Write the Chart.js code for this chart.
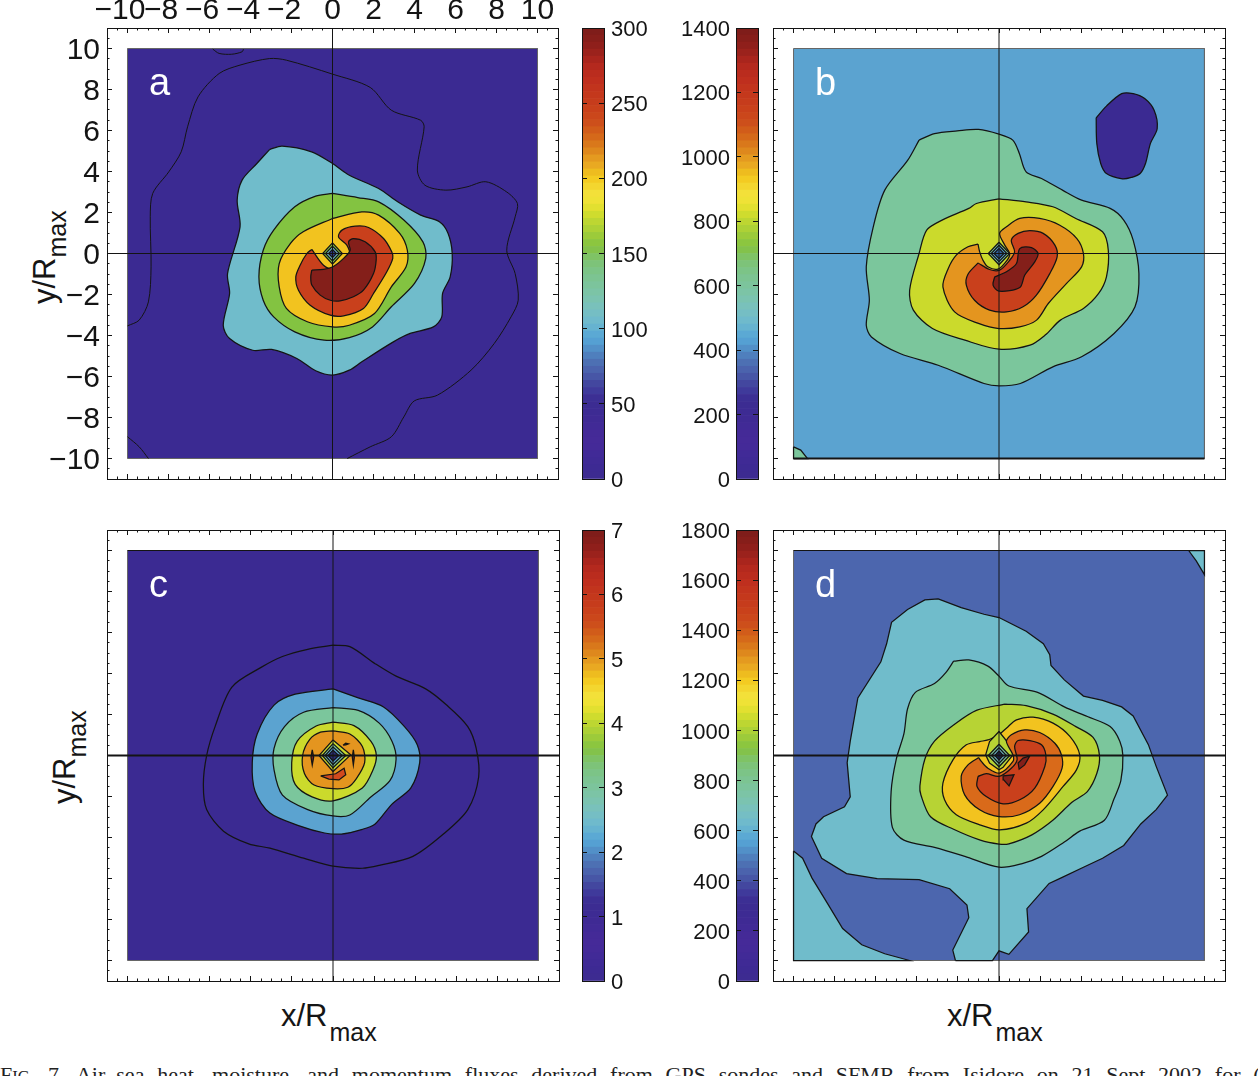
<!DOCTYPE html>
<html>
<head>
<meta charset="utf-8">
<script src="https://cdn.jsdelivr.net/npm/chart.js@4"></script>
<style>
html, body { margin: 0; background: #fff; width: 1258px; height: 1076px; overflow: hidden; }
canvas { position: absolute; }
.title { position: absolute; font-family: "Liberation Sans", sans-serif; font-size: 31px; line-height: 31px; color: #151515; white-space: nowrap; }
.title span { font-size: 25px; position: relative; top: 15px; margin-left: 2px; }
.rot { transform: rotate(-90deg); transform-origin: left top; }
.rot span { top: 11px; margin-left: 0; }
#caption { position: absolute; left: 0; top: 1064px; width: 1258px; font-family: "Liberation Serif", serif; font-size: 22px; line-height: 22px; color: #222; white-space: nowrap; overflow: hidden; word-spacing: 7.26px; }
#caption small { font-size: 16.5px; }
</style>
</head>
<body>
<div class="title rot" style="left:29px;top:304px">y/R<span>max</span></div>
<div class="title rot" style="left:49px;top:804px">y/R<span>max</span></div>
<div class="title" style="left:281px;top:1000px">x/R<span>max</span></div>
<div class="title" style="left:947px;top:1000px">x/R<span>max</span></div>
<div id="caption">F<small>IG</small>. 7. Air–sea heat, moisture, and momentum fluxes derived from GPS sondes and SFMR from Isidore on 21 Sept 2002 for (a</div>
<script>
const axisValues = [-10, -8, -6, -4, -2, 0, 2, 4, 6, 8, 10];
const axisLabels = ["−10", "−8", "−6", "−4", "−2", "0", "2", "4", "6", "8", "10"];
// the minus sign pushes the top labels to the left of their ticks
const topLabels = ["−10\u2002", "−8\u2002", "−6\u2002", "−4\u2002", "−2\u2002", "0", "2", "4", "6", "8", "10"];
const minorValues = [-11, -10.5, -10, -9.5, -9, -8.5, -8, -7.5, -7, -6.5, -6, -5.5, -5, -4.5, -4, -3.5, -3, -2.5, -2, -1.5, -1, -0.5, 0, 0.5, 1, 1.5, 2, 2.5, 3, 3.5, 4, 4.5, 5, 5.5, 6, 6.5, 7, 7.5, 8, 8.5, 9, 9.5, 10, 10.5, 11];

const barTicksA = [0, 50, 100, 150, 200, 250, 300];
const barTicksB = [0, 200, 400, 600, 800, 1000, 1200, 1400];
const barTicksC = [0, 1, 2, 3, 4, 5, 6, 7];
const barTicksD = [0, 200, 400, 600, 800, 1000, 1200, 1400, 1600, 1800];

// colour bar, bottom to top
const barColors = [
    "#3d2b91", "#3d2a93", "#3f2a95", "#412a97", "#442a98", "#452a98", "#442a97", "#412a96", "#3f2a94", "#3d2b93", "#3c2c92",
    "#3c2f94", "#3f3a9b", "#43479f", "#4756a6", "#4b63ad", "#4d70b3", "#4f7fbd", "#5290c8", "#55a0d3", "#5ba9d4",
    "#66b3d0", "#6fbacc", "#75bec4", "#79c1bb", "#7bc3b0", "#7cc4a6", "#7cc49c", "#7cc492", "#7cc487", "#7dc379",
    "#7fc365", "#83c24b", "#8cc63f", "#9ccb3a", "#add136", "#bdd632", "#cfdc2e", "#e2e030", "#efe236", "#f3e039",
    "#f3d62f", "#f3cb22", "#eebc1f", "#e9a922", "#e49a20", "#de881d", "#d9781b", "#d5691a", "#d15c1a", "#cd4f1b",
    "#cb471b", "#c9411b", "#c63c1c", "#c4381c", "#c2341d", "#bf2f1e", "#ba2c1e", "#b4291e", "#a9251d", "#9b221c",
    "#8f1f1b", "#861e1a", "#7f1d1a",
];

const boxOutline = [[-10, -10], [-10, 10], [10, 10], [10, -10]];
const crossH = [[-11, 0], [11, 0]];
const crossV = [[0, -11], [0, 11]];
const edgeTop = [[-10, 10], [10, 10]];
const edgeBottom = [[-10, -10], [10, -10]];

// panel a
const lineA1 = [[-10, -3.53], [-9.43, -3.25], [-8.98, -2.36], [-8.85, -0.65], [-8.89, 1.79], [-8.77, 2.93], [-7.99, 3.98], [-7.38, 4.96], [-7.07, 6.18], [-6.56, 7.64], [-5.53, 8.78], [-4.51, 9.19], [-3.07, 9.51], [-2.25, 9.43], [0, 8.75], [1.84, 8.1], [2.87, 6.99], [4.3, 6.5], [4.47, 6.18], [4.14, 4.07], [4.51, 3.33], [5.53, 3.09], [6.56, 3.25], [7.48, 3.5], [8.5, 3], [9.02, 2.44], [8.91, 1.79], [8.5, 0.16], [8.91, -0.98], [9.06, -2.28], [8.71, -3.09], [7.89, -4.39], [6.76, -5.69], [5.12, -6.91], [3.99, -7.19], [3.48, -7.97], [2.87, -8.94], [1.84, -9.43], [0.72, -10]];
const lineA2 = [[-5.84, 9.97], [-5.53, 9.76], [-4.92, 9.72], [-4.41, 9.84], [-4.34, 9.97]];
const lineA3 = [[-10, -8.94], [-9.43, -9.43], [-8.98, -10]];
const contourA2 = [[-3.07, 5.07], [-2.46, 5.24], [-1.02, 4.96], [0, 4.39], [0.82, 3.82], [2.25, 3.17], [3.18, 2.52], [4.3, 1.87], [5.23, 1.54], [5.64, 0.98], [5.84, 0], [5.74, -1.14], [5.37, -1.95], [5.33, -3.09], [4.92, -3.58], [3.79, -3.9], [2.97, -4.31], [1.43, -5.28], [0.82, -5.69], [0, -5.93], [-0.82, -5.72], [-1.74, -5.12], [-2.97, -4.68], [-3.89, -4.72], [-5.02, -4.15], [-5.33, -3.5], [-5.02, -1.95], [-5.12, -0.98], [-4.51, 1.3], [-4.65, 2.6], [-4.41, 3.58], [-3.69, 4.39]];
const contourA3 = [[0, 2.93], [1.23, 2.73], [2.25, 2.52], [3.48, 1.63], [4.41, 0.57], [4.55, -0.24], [4, -1.46], [2.87, -2.6], [1.95, -3.58], [0.82, -4.1], [-0.41, -4.23], [-1.84, -3.82], [-2.87, -3.09], [-3.38, -2.28], [-3.59, -1.14], [-3.38, 0.16], [-2.87, 1.14], [-1.84, 2.28], [-0.82, 2.8]];
const contourA4 = [[0, 1.71], [1.43, 2.03], [2.25, 1.87], [3.28, 0.98], [3.65, 0.16], [3.59, -0.65], [2.87, -1.63], [2.05, -2.93], [0.82, -3.5], [0, -3.58], [-1.23, -3.33], [-2.25, -2.68], [-2.6, -1.63], [-2.6, -0.49], [-2.05, 0.49], [-1.43, 1.06]];
const contourA5 = [[-1.01, 0.2], [-0.44, -0.57], [0.02, -0.75], [0.46, -0.57], [0.83, -0.08], [0.7, 0.41], [0.29, 0.81], [0.46, 1.14], [1.11, 1.33], [1.76, 1.27], [2.49, 0.73], [2.89, 0.08], [2.94, -0.24], [2.65, -0.89], [2, -1.95], [1.51, -2.68], [0.54, -3.04], [-0.11, -3.01], [-1.09, -2.52], [-1.66, -1.79], [-1.79, -1.14], [-1.58, -0.57], [-1.25, 0]];
const contourA6 = [[-1.01, -0.81], [-0.44, -0.78], [0.02, -0.65], [0.54, -0.24], [0.86, 0.16], [0.78, 0.57], [1.02, 0.73], [1.59, 0.57], [2.08, 0.08], [2.13, -0.33], [2, -0.98], [1.51, -1.79], [1.02, -2.11], [0.37, -2.31], [-0.11, -2.28], [-0.6, -2.03], [-1.01, -1.54], [-1.06, -1.14]];
const diamondA1 = [[0, 0.52], [0.48, 0], [0, -0.52], [-0.48, 0]];
const diamondA2 = [[0, 0.36], [0.34, 0], [0, -0.36], [-0.34, 0]];
const diamondA3 = [[0, 0.2], [0.19, 0], [0, -0.2], [-0.19, 0]];

// panel b
const contourB1 = [[4.73, 6.62], [5.23, 7.19], [5.97, 7.8], [6.53, 7.8], [7.09, 7.56], [7.55, 6.99], [7.7, 6.1], [7.37, 5.37], [7.13, 4.39], [6.87, 3.9], [6.44, 3.71], [6.01, 3.64], [5.23, 3.9], [4.95, 4.39], [4.76, 5.37]];
const contourB2 = [[-10, -9.43], [-9.65, -9.59], [-9.32, -10], [-10, -10]];
const contourB3 = [[-3.89, 5.53], [-3.14, 5.85], [-2.03, 5.98], [-1, 6.05], [0, 5.82], [0.67, 5.53], [0.99, 4.88], [1.32, 3.98], [2.07, 3.66], [3.09, 3.09], [4.02, 2.6], [5.41, 2.2], [6.07, 1.63], [6.53, 0.65], [6.81, -0.98], [6.62, -2.6], [5.6, -3.9], [4.02, -5.04], [2.62, -5.53], [1.04, -6.34], [0, -6.46], [-0.73, -6.34], [-2.96, -5.45], [-4.82, -4.88], [-6.21, -4.07], [-6.46, -3.5], [-6.31, -2.28], [-6.46, -0.65], [-6.12, 1.3], [-5.56, 3.09], [-4.44, 4.55]];
const contourB4 = [[0, 2.67], [1.32, 2.52], [2.62, 2.28], [3.74, 1.71], [5.04, 1.06], [5.32, 0.16], [5.23, -1.14], [4.85, -1.95], [4.11, -2.68], [2.99, -3.25], [2.25, -3.98], [1.51, -4.47], [0, -4.67], [-1.66, -4.23], [-3.24, -3.66], [-4.17, -2.76], [-4.35, -1.79], [-3.89, 0], [-3.52, 1.14], [-2.77, 1.63], [-1.47, 2.2], [-1.1, 2.44]];
const contourB5 = [[-1.02, 0.46], [-1.51, 0.33], [-2.08, -0.08], [-2.47, -0.73], [-2.73, -1.63], [-2.16, -2.85], [-1, -3.41], [0, -3.66], [1.01, -3.58], [1.83, -3.25], [2.4, -2.44], [3.29, -1.46], [4.02, -0.65], [4.11, 0], [3.79, 0.73], [2.96, 1.38], [1.98, 1.71], [1.01, 1.71], [0.36, 1.3], [0.03, 0.98], [0.28, 0.41], [0.52, 0], [0.39, -0.33], [-0.05, -0.76], [-0.54, -0.65], [-0.78, -0.33], [-0.94, 0.08]];
const contourB6 = [[-1.02, -0.46], [-1.51, -1.01], [-1.59, -1.54], [-1.19, -2.28], [-0.46, -2.76], [0.36, -2.85], [1.17, -2.6], [1.82, -2.03], [2.47, -0.98], [2.83, -0.16], [2.72, 0.41], [2.15, 0.98], [1.5, 1.11], [0.93, 0.98], [0.6, 0.65], [0.76, 0.08], [0.52, -0.33], [0.03, -0.81], [-0.46, -0.78]];
const contourB7 = [[-0.21, -1.14], [-0.29, -1.54], [0, -1.84], [1.01, -1.66], [1.25, -1.06], [1.74, -0.41], [1.9, 0], [1.58, 0.29], [1.01, 0.24], [0.85, -0.49], [0.36, -0.89]];
const diamondB1 = [[0, 0.55], [0.52, 0], [0, -0.55], [-0.52, 0]];
const diamondB2 = [[0, 0.4], [0.38, 0], [0, -0.4], [-0.38, 0]];
const diamondB3 = [[0, 0.25], [0.24, 0], [0, -0.25], [-0.24, 0]];

// panel c
const contourC1 = [[0, 5.38], [0.82, 5.31], [2.05, 4.48], [3.07, 3.87], [4.51, 3.25], [5.53, 2.46], [6.56, 1.41], [6.97, 0.35], [7.09, -1.05], [6.56, -2.64], [5.33, -3.87], [3.89, -4.92], [2.25, -5.36], [1.43, -5.5], [0, -5.4], [-1.43, -5.01], [-3.07, -4.52], [-4.1, -4.31], [-5.33, -3.69], [-6.15, -2.64], [-6.31, -1.41], [-6.15, 0], [-5.74, 1.41], [-4.92, 3.34], [-3.48, 4.31], [-2.46, 4.83], [-1.23, 5.18]];
const contourC2 = [[0, 3.25], [1.23, 2.81], [2.46, 2.37], [3.48, 1.41], [4.1, 0.53], [4.22, -0.35], [3.79, -1.58], [2.87, -2.37], [2.05, -3.34], [1.43, -3.6], [0.41, -3.83], [-0.41, -3.78], [-1.64, -3.43], [-3.07, -2.81], [-3.79, -1.76], [-3.93, -0.35], [-3.69, 1.05], [-2.87, 2.46], [-1.84, 2.99]];
const contourC3 = [[0, 2.34], [1.23, 2.2], [2.25, 1.58], [2.87, 0.7], [3.07, -0.18], [2.77, -1.23], [1.84, -2.02], [0.82, -2.9], [0, -2.95], [-1.23, -2.64], [-2.46, -1.93], [-2.87, -0.7], [-2.87, 0.35], [-2.36, 1.41], [-1.43, 2.11]];
const contourC4 = [[0, 1.63], [1.02, 1.46], [1.84, 0.7], [2.11, 0], [1.95, -0.7], [1.43, -1.58], [0, -2.21], [-1.02, -2.02], [-1.84, -1.41], [-2.01, -0.35], [-1.74, 0.7], [-0.82, 1.44]];
const contourC5 = [[0, 1.2], [0.82, 1.05], [1.43, 0.44], [1.54, -0.35], [1.13, -1.14], [0.72, -1.55], [0, -1.62], [-0.92, -1.44], [-1.39, -0.88], [-1.48, 0], [-1.13, 0.79], [-0.61, 1.14]];
const contourC6 = [[-0.6, -0.99], [-0.2, -1.15], [0.29, -1.19], [0.62, -0.94], [0.54, -0.62], [0.13, -0.89]];
const contourC7 = [[-1.01, 0.28], [-0.94, -0.08], [-1.01, -0.46], [-1.07, -0.08]];
const contourC8 = [[0.99, 0.28], [1.04, -0.08], [0.99, -0.46], [0.94, -0.08]];
const contourC9 = [[0.49, 0.5], [0.62, 0.6], [0.75, 0.57], [0.62, 0.52]];
const diamondC1 = [[0, 0.76], [0.86, 0.03], [0, -0.78], [-0.68, 0]];
const diamondC2 = [[0, 0.58], [0.62, 0], [0, -0.6], [-0.52, 0]];
const diamondC3 = [[0, 0.42], [0.45, 0], [0, -0.44], [-0.38, 0]];
const diamondC4 = [[0, 0.26], [0.28, 0], [0, -0.27], [-0.24, 0]];

// panel d
const contourD1 = [[-10, -4.66], [-9.56, -5.01], [-9.1, -5.98], [-8.35, -7.21], [-7.61, -8.44], [-6.68, -9.23], [-5.56, -9.67], [-4.35, -10], [-10, -10]];
const contourD2 = [[9.23, 10], [9.6, 9.49], [10, 8.82], [10, 10]];
const contourD3 = [[-2.12, -10], [-2.25, -9.49], [-1.47, -7.91], [-1.56, -7.29], [-2.4, -6.5], [-3.89, -6.06], [-5.93, -6.01], [-7.42, -5.76], [-8.63, -5.01], [-9.13, -3.95], [-8.91, -3.34], [-8.54, -2.99], [-7.52, -2.5], [-7.24, -2.02], [-7.39, -0.35], [-7.24, 0.7], [-6.87, 2.81], [-5.75, 4.57], [-5.47, 5.45], [-5.23, 6.5], [-4.45, 7.12], [-3.61, 7.59], [-2.96, 7.64], [-1.84, 7.21], [-0.73, 6.89], [0, 6.73], [1.32, 6.06], [2.16, 5.45], [2.47, 4.92], [2.53, 4.39], [3.18, 3.69], [4.11, 2.9], [5.04, 2.69], [5.97, 2.37], [6.53, 1.93], [7.27, 0.53], [7.65, -0.53], [8.2, -1.93], [7.65, -2.64], [6.9, -3.34], [6.07, -4.39], [5.04, -5.01], [4.11, -5.45], [3, -5.98], [2.44, -6.24], [1.36, -7.47], [1.44, -8.61], [0.48, -9.7], [0, -9.53], [-0.32, -10]];
const contourD4 = [[-2.21, 4.6], [-1.47, 4.66], [-0.54, 4.36], [0, 3.87], [0.48, 3.39], [1.88, 3.08], [3.18, 2.37], [4.3, 1.9], [5.41, 1.41], [5.88, 0.7], [6.03, 0], [5.93, -1.23], [5.6, -2.11], [5.13, -3.16], [3.93, -3.69], [3.18, -4.22], [2.07, -4.92], [1.13, -5.27], [0, -5.45], [-1.66, -4.92], [-3.14, -4.48], [-4.63, -4.13], [-5.19, -3.51], [-5.25, -1.76], [-5, -0.18], [-4.63, 1.05], [-4.45, 2.28], [-4.07, 3.08], [-3.14, 3.51], [-2.59, 4.04]];
const contourD5 = [[0.3, 2.51], [1.32, 2.43], [2.62, 2.02], [3.74, 1.41], [4.58, 0.88], [4.89, 0], [4.76, -0.88], [4.3, -1.76], [3.55, -2.28], [2.62, -3.16], [1.6, -3.87], [0.48, -4.31], [0, -4.32], [-0.91, -4.13], [-2.21, -3.6], [-3.33, -2.99], [-3.8, -1.93], [-3.85, -1.49], [-3.61, -0.18], [-3.14, 0.7], [-2.21, 1.49], [-1.1, 2.2]];
const contourD6 = [[0, 1.01], [0.36, 1.33], [0.85, 1.74], [1.66, 1.87], [2.63, 1.58], [3.45, 0.93], [3.93, 0.03], [3.77, -0.7], [3.12, -1.51], [2.15, -2.65], [1.33, -3.3], [0.03, -3.63], [-0.94, -3.38], [-2.08, -2.89], [-2.65, -2.16], [-2.73, -1.35], [-2.24, -0.21], [-1.59, 0.52], [-0.94, 0.68], [-0.54, 0.76]];
const contourD7 = [[0, 1.17], [0.52, 0.52], [0.68, 0.03], [0.2, -0.57], [0, -0.7], [-0.46, -0.37], [-0.65, 0.03], [-0.46, 0.68]];
const contourD8 = [[-0.99, -0.1], [-1.51, -0.46], [-1.84, -1.02], [-1.67, -1.92], [-0.94, -2.65], [0, -2.98], [1, -2.89], [1.98, -2.33], [2.63, -1.51], [3.07, -0.62], [3.04, 0.03], [2.72, 0.6], [1.98, 1.12], [1.25, 1.25], [0.6, 1.01], [0.36, 0.68], [0.68, 0.03], [0.68, -0.29], [0.03, -0.86], [-0.54, -0.62], [-0.86, -0.29]];
const contourD9 = [[-1.02, -1.02], [-1.07, -1.51], [-0.62, -2], [0.2, -2.36], [1.01, -2.16], [1.74, -1.59], [2.23, -0.54], [2.28, 0.03], [2.07, 0.52], [1.5, 0.73], [0.93, 0.73], [0.76, 0.44], [0.88, -0.21], [0.6, -0.62], [0, -1.02], [-0.62, -0.89]];
const contourD10 = [[1.5, -0.02], [1.25, -0.46], [0.98, -0.67], [0.93, -0.37], [1.17, -0.13]];
const contourD11 = [[0.2, -0.99], [0.73, -0.94], [0.49, -1.48], [0.23, -1.19]];
const diamondD1 = [[0, 0.55], [0.52, 0], [0, -0.55], [-0.52, 0]];
const diamondD2 = [[0, 0.38], [0.36, 0], [0, -0.38], [-0.36, 0]];
const diamondD3 = [[0, 0.22], [0.2, 0], [0, -0.22], [-0.2, 0]];

const INDIGO = "#3b2a92", SLATE = "#4c66ae", BLUE = "#5ba3d0", TEAL = "#70bccb", MINT = "#7bc69c";
const GREEN = "#83c341", LIME = "#cbda2c", LIME2 = "#b7d334", AMBER = "#f2c31f", ORANGE = "#e4951f";
const RUST = "#d96a1a", RED = "#c9401c", MAROON = "#841f1a";

const layersA = [
    [boxOutline, INDIGO], [contourA2, TEAL], [contourA3, GREEN], [contourA4, AMBER], [contourA5, RED], [contourA6, MAROON],
    [diamondA1, GREEN], [diamondA2, TEAL], [diamondA3, "#2b3a8c"],
];
const layersB = [
    [boxOutline, BLUE], [contourB1, INDIGO], [contourB2, MINT], [contourB3, MINT], [contourB4, LIME], [contourB5, ORANGE], [contourB6, RED], [contourB7, MAROON],
    [diamondB1, MINT], [diamondB2, BLUE], [diamondB3, "#2f5f9a"],
];
const layersC = [
    [boxOutline, INDIGO], [contourC1, INDIGO], [contourC2, BLUE], [contourC3, MINT], [contourC4, LIME], [contourC5, ORANGE], [contourC6, "#d14a1e"],
    [contourC7, MAROON], [contourC8, MAROON], [contourC9, MAROON],
    [diamondC1, LIME], [diamondC2, MINT], [diamondC3, BLUE], [diamondC4, "#2b2f7c"],
];
const layersD = [
    [boxOutline, SLATE], [contourD1, TEAL], [contourD2, TEAL], [contourD3, TEAL], [contourD4, MINT], [contourD5, LIME2], [contourD6, AMBER], [contourD7, LIME2],
    [contourD8, RUST], [contourD9, RED], [contourD10, MAROON], [contourD11, MAROON],
    [diamondD1, MINT], [diamondD2, TEAL], [diamondD3, "#1e2a66"],
];
const openLinesA = [lineA1, lineA2, lineA3];
// these touch the box edge, a curve through them would spill out of it
const straightLayers = [boxOutline, contourB2, contourD1, contourD2, contourD3];

const INK = "#141414";

function addCanvas(left, top, width, height) {
    const canvas = document.createElement("canvas");
    canvas.width = width;
    canvas.height = height;
    canvas.style.left = left + "px";
    canvas.style.top = top + "px";
    document.body.appendChild(canvas);
    return canvas;
}

function edgeAxis(position, min, max, values, tickLength, size, labels, fontSize, padding, z, labelOffset) {
    const horizontal = position == "top" || position == "bottom";
    return {
        type: "linear",
        position: position,
        weight: size > 0 ? 1 : 0,
        min: min,
        max: max,
        afterBuildTicks: (scale) => {
            scale.ticks = values.map((v) => ({ value: v }));
        },
        afterFit: (scale) => {
            if (horizontal) scale.height = size;
            else scale.width = size;
            scale.paddingLeft = scale.paddingRight = scale.paddingTop = scale.paddingBottom = 0;
        },
        grid: { drawOnChartArea: false, drawTicks: true, tickLength: -tickLength, color: INK, z: z || 0 },
        border: { display: true, color: INK, width: 1, z: z || 0 },
        ticks: {
            display: !!labels,
            autoSkip: false,
            maxRotation: 0,
            minRotation: 0,
            padding: padding || 0,
            labelOffset: labelOffset || 0,
            color: INK,
            font: { family: "Liberation Sans", size: fontSize || 12 },
            callback: (v) => (labels ? labels[values.indexOf(v)] : ""),
        },
    };
}

function closed(points) {
    return points.concat([points[0]]).map((p) => ({ x: p[0], y: p[1] }));
}

function open(points) {
    return points.map((p) => ({ x: p[0], y: p[1] }));
}

const panelLetter = {
    id: "panelLetter",
    afterDatasetsDraw(chart, args, opts) {
        const ctx = chart.ctx;
        ctx.save();
        ctx.fillStyle = "#fff";
        ctx.font = '38px "Liberation Sans"';
        ctx.textBaseline = "alphabetic";
        ctx.fillText(opts.text, chart.scales.x.getPixelForValue(opts.x), chart.scales.y.getPixelForValue(opts.y));
        ctx.restore();
    },
};

function drawPanel(left, top, layers, lines, edges, crossWidth, letter, showLabels) {
    const datasets = [];
    const lineStyle = { showLine: true, pointRadius: 0, tension: 0.3, borderColor: INK, borderWidth: 1.25 };

    datasets.push({ ...lineStyle, tension: 0, borderWidth: crossWidth, data: open(crossH), fill: false });
    datasets.push({ ...lineStyle, tension: 0, borderWidth: 1, data: open(crossV), fill: false });
    edges.forEach((e) => datasets.push({ ...lineStyle, tension: 0, borderWidth: e === edgeBottom ? 2 : 1, data: open(e), fill: false }));
    lines.forEach((l) => datasets.push({ ...lineStyle, borderWidth: 1, data: open(l), fill: false }));
    // first dataset ends on top, so the deepest layer goes last
    layers.slice().reverse().forEach(([points, color]) => {
        datasets.push({
            ...lineStyle,
            tension: points.length < 9 || straightLayers.includes(points) ? 0 : 0.3,
            borderColor: points === boxOutline ? "#666" : INK,
            borderWidth: points === boxOutline ? 1 : 1.25,
            data: closed(points),
            fill: "shape",
            backgroundColor: color,
        });
    });

    const labelFont = 30;
    new Chart(addCanvas(left, top, 490 + (showLabels ? 80 : 0), 490), {
        type: "scatter",
        data: { datasets: datasets },
        plugins: [panelLetter],
        options: {
            responsive: false,
            animation: false,
            devicePixelRatio: 1,
            layout: {
                padding: { left: showLabels ? 0 : 5, top: showLabels ? 0 : 28, right: showLabels ? 12 : 33, bottom: 11 },
            },
            scales: {
                x: edgeAxis("bottom", -11, 11, axisValues, 5, 0),
                x2: edgeAxis("bottom", -11, 11, minorValues, 2.5, 0),
                x3: edgeAxis("top", -11, 11, axisValues, 5, showLabels ? 28 : 0, showLabels ? topLabels : null, labelFont, 4),
                x4: edgeAxis("top", -11, 11, minorValues, 2.5, 0),
                y: edgeAxis("left", -11, 11, axisValues, 5, showLabels ? 107 : 0, showLabels ? axisLabels : null, labelFont, 12, 0, 2),
                y2: edgeAxis("left", -11, 11, minorValues, 2.5, 0),
                y3: edgeAxis("right", -11, 11, axisValues, 5, 0),
                y4: edgeAxis("right", -11, 11, minorValues, 2.5, 0),
            },
            plugins: {
                legend: { display: false },
                tooltip: { enabled: false },
                panelLetter: { text: letter, x: -8.95, y: 7.73 },
            },
        },
    });
}

function drawBar(left, top, width, paddingLeft, paddingRight, side, values, max) {
    const n = barColors.length;
    const datasets = barColors.map((color, i) => ({
        data: [[(i * max) / n, ((i + 1) * max) / n]],
        backgroundColor: color,
        barPercentage: 1,
        categoryPercentage: 1,
        grouped: false,
        yAxisID: "y",
    }));
    const labels = values.map(String);
    const other = side == "right" ? "left" : "right";
    const bottomAxis = edgeAxis("bottom", 0, 1, [], 0, 0);
    bottomAxis.type = "category";

    new Chart(addCanvas(left, top, width, 490), {
        type: "bar",
        data: { labels: [""], datasets: datasets },
        options: {
            responsive: false,
            animation: false,
            devicePixelRatio: 1,
            layout: { padding: { left: paddingLeft, right: paddingRight, top: 28, bottom: 11 } },
            scales: {
                x: { ...bottomAxis, min: undefined, max: undefined, afterBuildTicks: undefined, ticks: { display: false }, grid: { display: false } },
                x2: edgeAxis("top", 0, 1, [], 0, 0, null, 12, 0, 1),
                y: edgeAxis(side, 0, max, values, 5, side == "right" ? width - paddingLeft - 22 : width - paddingRight - 22, labels, 22, side == "right" ? 12 : 11, 1, 2),
                y2: edgeAxis(other, 0, max, values, 5, 0, null, 12, 0, 1),
            },
            plugins: { legend: { display: false }, tooltip: { enabled: false } },
        },
    });
}

drawPanel(0, 0, layersA, openLinesA, [], 1, "a", true);
drawPanel(768, 0, layersB, [], [edgeBottom], 1, "b", false);
drawPanel(102, 502, layersC, [], [edgeTop], 2, "c", false);
drawPanel(768, 502, layersD, [], [edgeTop], 2, "d", false);

drawBar(570, 0, 90, 12, 0, "right", barTicksA, 300);
drawBar(670, 0, 98, 0, 10, "left", barTicksB, 1400);
drawBar(570, 502, 90, 12, 0, "right", barTicksC, 7);
drawBar(670, 502, 98, 0, 10, "left", barTicksD, 1800);
</script>
</body>
</html>
